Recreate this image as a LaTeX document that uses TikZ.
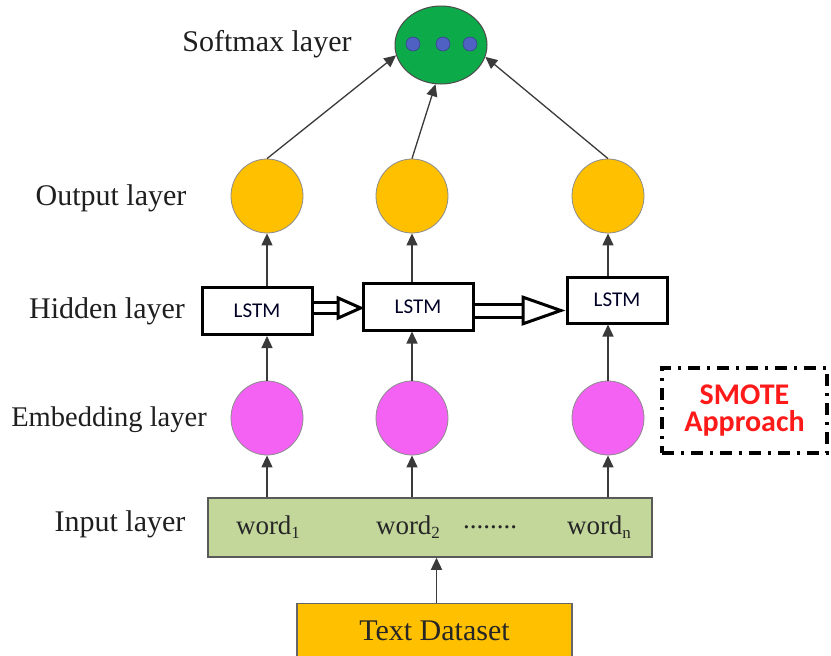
\documentclass[tikz,border=0pt]{standalone}
\usepackage{fontspec}
\setmainfont{Liberation Serif}
\newfontfamily\calibri{Carlito}
\usetikzlibrary{arrows.meta,shapes.geometric,calc}
\definecolor{orng}{HTML}{FFC000}
\definecolor{magn}{HTML}{F462F4}
\definecolor{inpg}{HTML}{C4D79B}
\definecolor{smg}{HTML}{0DAA4A}
\definecolor{dotb}{HTML}{4F62C4}
\definecolor{conn}{HTML}{3A3A3A}
\definecolor{smred}{HTML}{FF1A1A}
\tikzset{
  lbl/.style={font=\fontsize{30}{32}\selectfont, text=black!88},
  neuron/.style={ellipse, minimum width=72pt, minimum height=74pt, draw=black!45, line width=0.8pt, inner sep=0pt},
  lstmbox/.style={rectangle, draw=black, line width=3pt, fill=white, inner sep=0pt, font=\calibri\fontsize{21}{22}\selectfont, text=black!75!blue!60!black},
  arr/.style={draw=conn, line width=1.3pt, -{Triangle[length=12pt,width=11pt]}},
  dbl/.style={draw=black, line width=3pt, double=white},
  opentip/.style={draw=black, line width=3pt},
  sdot/.style={circle, minimum size=14pt, inner sep=0pt, fill=dotb, draw=dotb!70!black, line width=0.6pt},
}
\begin{document}
\begin{tikzpicture}[x=1pt,y=-1pt]
\useasboundingbox (0,0) rectangle (831,656);
\fill[white] (0,0) rectangle (831,656);
% labels
\node[lbl] (lsoft) at (267,44) {Softmax layer};
\node[lbl] (lout) at (111,198) {Output layer};
\node[lbl] (lhid) at (107,311) {Hidden layer};
\node[lbl, font=\fontsize{28.5}{30}\selectfont] (lemb) at (109,420) {Embedding layer};
\node[lbl] (linp) at (120,524) {Input layer};
% softmax
\node[ellipse, minimum width=92pt, minimum height=78pt, fill=smg, draw=black!70, line width=1pt] (soft) at (441,45) {};
\node[sdot] (d1) at (413,44) {};
\node[sdot] (d2) at (443,44) {};
\node[sdot] (d3) at (470,44) {};
% output neurons
\node[neuron, fill=orng] (out1) at (267,196) {};
\node[neuron, fill=orng] (out2) at (412,196) {};
\node[neuron, fill=orng] (out3) at (608,196) {};
% LSTM boxes
\node[lstmbox, minimum width=110pt, minimum height=47pt] (l1) at (257,311) {LSTM};
\node[lstmbox, minimum width=110pt, minimum height=47pt] (l2) at (418,306.5) {LSTM};
\node[lstmbox, minimum width=100pt, minimum height=46pt] (l3) at (617,300) {LSTM};
% embedding neurons
\node[neuron, fill=magn] (emb1) at (267,418) {};
\node[neuron, fill=magn] (emb2) at (412,418) {};
\node[neuron, fill=magn] (emb3) at (608,418) {};
% input box
\node[rectangle, fill=inpg, draw=black!65, line width=1.5pt, minimum width=444pt, minimum height=59pt] (inp) at (430,527.5) {};
\node[font=\fontsize{27}{28}\selectfont, text=black!85] (w1) at (268,527) {word{\fontsize{17}{17}\selectfont\raisebox{-4pt}{1}}};
\node[font=\fontsize{27}{28}\selectfont, text=black!85] (w2) at (408,527) {word{\fontsize{17}{17}\selectfont\raisebox{-4pt}{2}}};
\node[font=\fontsize{27}{28}\selectfont, text=black!85] (wd) at (490,527) {........};
\node[font=\fontsize{27}{28}\selectfont, text=black!85] (wn) at (599,527) {word{\fontsize{17}{17}\selectfont\raisebox{-4pt}{n}}};
% text dataset
\node[rectangle, fill=orng, draw=black!60, line width=1.2pt, minimum width=275pt, minimum height=56pt, anchor=north] (data) at (434.5,603) {};
\node[font=\fontsize{30}{32}\selectfont, text=black!85] (datat) at (434.5,631) {Text Dataset};
% SMOTE
\node[rectangle, draw=black, line width=3.5pt, dash pattern=on 12pt off 7pt on 3pt off 7pt, minimum width=165pt, minimum height=85pt, font=\calibri\bfseries\fontsize{30}{30}\selectfont, text=smred, align=center] (smote) at (744.5,410.5) {SMOTE\\[-3pt]Approach};
% connectors
\draw[arr] ($(data.north)+(2,0)$) -- ($(data.north |- inp.south)+(2,0)$);
\draw[arr] (inp.north -| emb1) -- (emb1.south);
\draw[arr] (inp.north -| emb2) -- (emb2.south);
\draw[arr] (inp.north -| emb3) -- (emb3.south);
\draw[arr] (emb1.north) -- (emb1.north |- l1.south);
\draw[arr] (emb2.north) -- (emb2.north |- l2.south);
\draw[arr] (emb3.north) -- (emb3.north |- l3.south);
\draw[arr] (l1.north -| out1) -- (out1.south);
\draw[arr] (l2.north -| out2) -- (out2.south);
\draw[arr] (l3.north -| out3) -- (out3.south);
\draw[arr] (out1.north) -- (soft.193);
\draw[arr] (out2.north) -- (soft.262);
\draw[arr] (out3.north) -- (soft.345);
% recurrent double arrows
\coordinate (s1) at ($(l1.east)+(0,-3)$);
\coordinate (e1) at ($(l2.west |- s1)+(3,0)$);
\coordinate (a1) at ($(e1)+(-28,0)$);
\draw[dbl, double distance=8pt] (s1) -- (a1);
\draw[opentip, -{Triangle[open,length=28pt,width=24pt,line width=3pt]}] (a1) -- (e1);
\coordinate (s2) at ($(l2.east)+(0,4)$);
\coordinate (e2) at ($(l3.west |- s2)+(0,0)$);
\coordinate (a2) at ($(e2)+(-44,0)$);
\draw[dbl, double distance=10pt] (s2) -- (a2);
\draw[opentip, -{Triangle[open,length=44pt,width=30pt,line width=3pt]}] (a2) -- (e2);
\end{tikzpicture}
\end{document}
